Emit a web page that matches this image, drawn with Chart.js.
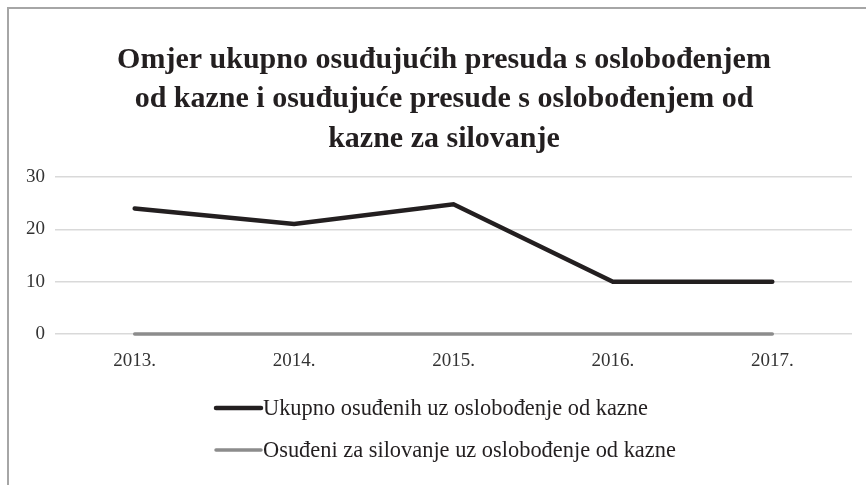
<!DOCTYPE html>
<html>
<head>
<meta charset="utf-8">
<script src="https://cdn.jsdelivr.net/npm/chart.js@4/dist/chart.umd.min.js"></script>
<style>
  html, body { margin: 0; padding: 0; background: #fff; }
  #wrap { position: relative; width: 866px; height: 485px; overflow: hidden; }
  #frame { position: absolute; left: 7px; top: 7px; width: 900px; height: 520px;
           border-top: 2px solid #a6a6a6; border-left: 2px solid #a6a6a6; }
  canvas { position: absolute; left: 0; top: 0; }
</style>
</head>
<body>
<div id="wrap">
  <canvas id="chart" width="866" height="485"></canvas>
  <div id="frame"></div>
</div>
<script>
'use strict';
var years = ['2013.', '2014.', '2015.', '2016.', '2017.'];
var ukupno = [24, 21, 24.8, 10, 10];
var silovanje = [0, 0, 0, 0, 0];
var seriesNames = ['Ukupno osuđenih uz oslobođenje od kazne', 'Osuđeni za silovanje uz oslobođenje od kazne'];
var titleLines = ['Omjer ukupno osuđujućih presuda s oslobođenjem', 'od kazne i osuđujuće presude s oslobođenjem od', 'kazne za silovanje'];
var yTicks = [0, 10, 20, 30];

var serif = '"Liberation Serif", "Times New Roman", serif';

// title drawn by hand so it can sit a bit right of the canvas centre
var offsetTitle = {
  id: 'offsetTitle',
  afterDraw: function(chart) {
    var ctx = chart.ctx;
    ctx.save();
    ctx.font = 'bold 30px ' + serif;
    ctx.fillStyle = '#231f20';
    ctx.textAlign = 'center';
    ctx.textBaseline = 'middle';
    titleLines.forEach(function(line, i) {
      ctx.fillText(line, 444, 60 + i * 39.6);
    });
    ctx.restore();
  }
};

// legend drawn as a stacked list, line sample right before the text
var stackedLegend = {
  id: 'stackedLegend',
  afterDraw: function(chart) {
    var ctx = chart.ctx;
    ctx.save();
    ctx.font = '22.4px ' + serif;
    ctx.textBaseline = 'middle';
    ctx.textAlign = 'left';
    chart.data.datasets.forEach(function(ds, i) {
      var y = 408 + i * 42;
      ctx.strokeStyle = ds.borderColor;
      ctx.lineWidth = ds.borderWidth;
      ctx.lineCap = 'round';
      ctx.beginPath();
      ctx.moveTo(216, y);
      ctx.lineTo(261, y);
      ctx.stroke();
      ctx.fillStyle = '#231f20';
      ctx.fillText(ds.label, 263, y + 1);
    });
    ctx.restore();
  }
};

var ctx = document.getElementById('chart');
new Chart(ctx, {
  type: 'line',
  data: {
    labels: years,
    datasets: [
      {
        label: seriesNames[0],
        data: ukupno,
        borderColor: '#231f20',
        backgroundColor: '#231f20',
        borderWidth: 4.5,
        borderCapStyle: 'round',
        pointRadius: 0,
        tension: 0,
        clip: 8
      },
      {
        label: seriesNames[1],
        data: silovanje,
        borderColor: '#8c8c8c',
        backgroundColor: '#8c8c8c',
        borderWidth: 3.5,
        borderCapStyle: 'round',
        pointRadius: 0,
        tension: 0,
        clip: 8
      }
    ]
  },
  options: {
    animation: false,
    responsive: false,
    layout: { padding: { left: 0, right: 14, top: 177, bottom: 0 } },
    plugins: {
      legend: { display: false },
      tooltip: { enabled: false },
      title: { display: false }
    },
    scales: {
      x: {
        offset: true,
        grid: { display: false, drawTicks: false },
        border: { display: false },
        ticks: { color: '#333', font: { family: serif, size: 19 }, padding: 16 },
        afterFit: function(scale) { scale.height = 151; }
      },
      y: {
        min: 0,
        max: 30,
        afterBuildTicks: function(scale) {
          scale.ticks = yTicks.map(function(v) { return { value: v }; });
        },
        grid: { color: '#d9d9d9', lineWidth: 1.5, drawTicks: false },
        border: { display: false },
        ticks: { color: '#333', font: { family: serif, size: 19 }, padding: 10 },
        afterFit: function(scale) { scale.width = 55; }
      }
    }
  },
  plugins: [offsetTitle, stackedLegend]
});
</script>
</body>
</html>
